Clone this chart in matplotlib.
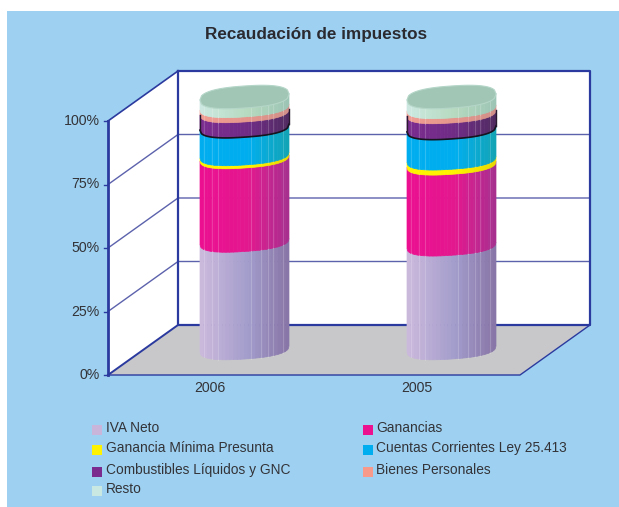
import numpy as np
import matplotlib
matplotlib.use("Agg")
import matplotlib.pyplot as plt
from matplotlib.colors import to_rgb
from matplotlib.patches import Rectangle, Polygon

# data (% of total)
years = ["2006", "2005"]
series = ["IVA Neto", "Ganancias", "Ganancia Mínima Presunta",
          "Cuentas Corrientes Ley 25.413", "Combustibles Líquidos y GNC",
          "Bienes Personales", "Resto"]
values_2006 = [42.5, 33.0, 1.2, 11.0, 6.0, 2.0, 4.3]
values_2005 = [41.0, 32.0, 2.0, 12.0, 6.3, 2.0, 4.7]
y_ticks = [0, 25, 50, 75, 100]
y_labels = ["0%", "25%", "50%", "75%", "100%"]

legend_colors = ["#C9B4DA", "#EC118F", "#FFF200", "#00AEEF", "#7B2B8E", "#F79A8C", "#C9E8E2"]
# left, middle, right shade of each band
shades = [("#CDBADD", "#A29CCB", "#8774A6"),
          ("#EC0F90", "#E3188F", "#A6308F"),
          ("#FFF200", "#FFF200", "#E8D800"),
          ("#00AEEF", "#00AEEF", "#12A3B4"),
          ("#7B2C8F", "#702C86", "#4F2A60"),
          ("#F09C92", "#E5968C", "#D08F88"),
          ("#CDE9E2", "#B5DABF", "#9CC4B4")]
top_color = "#A2C6B6"
line_dark = "#2B3A9E"
line_grid = "#5C62AC"
text_color = "#333338"

# 3d box geometry, in pixels
left, right = 178, 590
top, floor = 71, 325
dx, dy = 70, 50

# bars stand a bit in front of the back wall
bar_base, bar_span = 352, 253
bar_w, bar_b, bar_skew = 89, 10, 6
bar_x = [200, 407]
streaks = [0.04, 0.13, 0.2, 0.57, 0.68, 0.76, 0.82, 0.93]


def wall_y(p):
    return floor - (floor - top) * p / 100


def bar_y(p):
    return bar_base - bar_span * p / 100


def arc(x0, u, b=bar_b, n=2.5):
    # front edge of the cylinder, flatter than a true ellipse like the original
    t = np.abs(2 * u - 1)
    return x0 + bar_w * u, -bar_skew * u + b * np.clip(1 - t ** n, 0, 1) ** (1 / n)


def band_color(colors, u):
    c = [np.array(to_rgb(k)) for k in colors]
    if u < 0.55:
        return c[0] + (c[1] - c[0]) * u / 0.55
    return c[1] + (c[2] - c[1]) * (u - 0.55) / 0.45


def draw_bar(ax, x0, vals):
    cum = np.insert(np.cumsum(vals), 0, 0)
    edges = np.linspace(0, 1, 25)
    for i in range(len(vals)):
        y1, y2 = bar_y(cum[i]), bar_y(cum[i + 1])
        for a, b in zip(edges[:-1], edges[1:]):
            uu = np.linspace(a, b, 6)
            xs, ys = arc(x0, uu)
            pts = np.r_[np.c_[xs, ys + y1], np.c_[xs[::-1], ys[::-1] + y2]]
            col = band_color(shades[i], (a + b) / 2)
            ax.add_patch(Polygon(pts, closed=True, fc=col, ec=col, lw=0.5, zorder=3))
        # lighter vertical streaks of the original shading
        if i != 2:
            for s in streaks:
                xs, ys = arc(x0, np.array([s]))
                ax.plot([xs[0], xs[0]], [ys[0] + y1, ys[0] + y2], color="white",
                        alpha=0.18, lw=0.8, zorder=4)
    # dark edge under and beside the fuel band
    uu = np.linspace(0, 1, 60)
    xs, ys = arc(x0, uu)
    ax.plot(xs, ys + bar_y(cum[4]), color="#151520", lw=1.2, zorder=5)
    ax.plot([x0, x0], [bar_y(cum[4]), bar_y(cum[5])], color="#2A1A30", lw=1.0, zorder=5)
    ax.plot([x0 + bar_w] * 2, [bar_y(cum[4]) - bar_skew, bar_y(cum[5]) - bar_skew],
            color="#2A1A30", lw=1.0, zorder=5)
    # top of the cylinder
    xs, low = arc(x0, uu, b=11)
    _, high = arc(x0, uu[::-1], b=-11)
    y0 = bar_y(cum[-1]) + 1
    pts = np.r_[np.c_[xs, low + y0], np.c_[xs[::-1], high + y0]]
    ax.add_patch(Polygon(pts, closed=True, fc=top_color, ec="#B4D6C8", lw=0.8, zorder=6))


plt.rcParams["font.family"] = ["Liberation Sans", "DejaVu Sans"]
fig = plt.figure(figsize=(6.19, 5.07), dpi=100, facecolor="white")
ax = fig.add_axes([0, 0, 1, 1])
ax.set_xlim(0, 619)
ax.set_ylim(507, 0)
ax.axis("off")

ax.add_patch(Rectangle((7, 11), 612, 496, fc="#9ED1F1", ec="none", zorder=0))

# walls and floor
ax.add_patch(Rectangle((left, top), right - left, floor - top, fc="white", ec="none", zorder=1))
ax.add_patch(Polygon([(left - dx, top + dy), (left, top), (left, floor), (left - dx, floor + dy)],
                     fc="white", ec="none", zorder=1))
ax.add_patch(Polygon([(left - dx, floor + dy), (left, floor), (right, floor), (right - dx, floor + dy)],
                     fc="#C8C8CA", ec="none", zorder=1))

# gridlines
for p in y_ticks[1:-1]:
    y = wall_y(p)
    ax.plot([left - dx, left, right], [y + dy, y, y], color=line_grid, lw=1.0, zorder=2)

# frame
ax.plot([left, right, right, left, left], [top, top, floor, floor, top], color=line_dark, lw=1.6, zorder=2)
ax.plot([left - dx, left - dx], [top + dy, floor + dy], color=line_dark, lw=2.0, zorder=2)
ax.plot([left - dx, left], [top + dy, top], color=line_dark, lw=1.2, zorder=2)
ax.plot([left - dx, left], [floor + dy, floor], color=line_dark, lw=1.4, zorder=2)
ax.plot([left - dx, right - dx, right], [floor + dy, floor + dy, floor], color=line_dark, lw=1.0, zorder=2)

for p, lab in zip(y_ticks, y_labels):
    y = wall_y(p) + dy
    ax.plot([left - dx - 4, left - dx], [y, y], color=line_dark, lw=1.0, zorder=2)
    ax.text(left - dx - 8, y, lab, ha="right", va="center", fontsize=10.2, color=text_color)

draw_bar(ax, bar_x[0], values_2006)
draw_bar(ax, bar_x[1], values_2005)

for x0, yr in zip(bar_x, years):
    ax.text(x0 + 9.5, 388, yr, ha="center", va="center", fontsize=10.2, color=text_color)

ax.text(316, 34, "Recaudación de impuestos", ha="center", va="center",
        fontsize=12.3, fontweight="bold", color="#2A2A30")

# legend
rows = [430, 430, 450, 450, 472, 472, 491]
cols = [92, 363, 92, 363, 92, 363, 92]
for name, col, x, y in zip(series, legend_colors, cols, rows):
    ax.add_patch(Rectangle((x, y - 5), 10, 10, fc=col, ec="none", zorder=3))
    ax.text(x + 13.5, y - 2, name, ha="left", va="center", fontsize=9.9, color=text_color)

fig.savefig("out.png", dpi=100)
